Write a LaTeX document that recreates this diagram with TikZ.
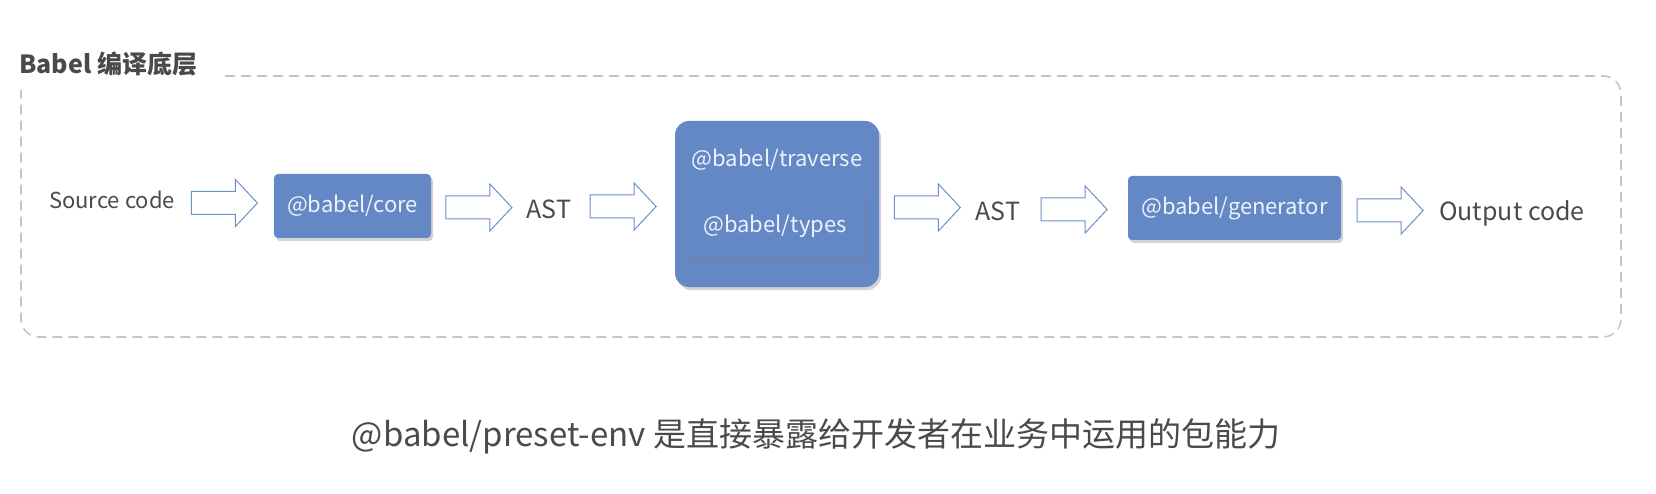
\documentclass[tikz,border=0pt]{standalone}
\usepackage{fontspec}
\setmainfont{Noto Sans CJK SC}
\usetikzlibrary{shadows,calc}
\definecolor{boxblue}{HTML}{6388C5}
\definecolor{txtgray}{HTML}{4A4A4A}
\definecolor{dashgray}{HTML}{C3C6CE}
\definecolor{arrblue}{HTML}{6E8FC8}
\definecolor{boxtxt}{HTML}{EEF2FA}
\tikzset{
  lbl/.style={inner sep=0pt, text=txtgray, font=\fontsize{22}{26}\selectfont},
  biglbl/.style={inner sep=0pt, text=txtgray, font=\fontsize{25}{30}\selectfont},
  pkg/.style={fill=boxblue, rounded corners=4pt, text=boxtxt, inner sep=0pt,
    font=\fontsize{22}{26}\selectfont,
    drop shadow={shadow xshift=2pt, shadow yshift=-3pt, opacity=0.35}},
  barrowstyle/.style={draw=arrblue, fill=white, line width=1pt, line join=miter},
  framebox/.style={draw=dashgray, line width=1.6pt, dash pattern=on 10pt off 6pt, rounded corners=18pt},
}
\newcommand\blockarrow[2]{%
  \path (#1.east) -- (#2.west) coordinate[pos=0.5] (m-#1-#2);
  \draw[barrowstyle] ($(m-#1-#2)+(-33,-11.5)$) -- ($(m-#1-#2)+(11,-11.5)$) -- ($(m-#1-#2)+(11,-23.5)$)
    -- ($(m-#1-#2)+(33,0)$) -- ($(m-#1-#2)+(11,23.5)$) -- ($(m-#1-#2)+(11,11.5)$)
    -- ($(m-#1-#2)+(-33,11.5)$) -- cycle;
}
\begin{document}
\begin{tikzpicture}[x=1pt,y=-1pt]
\useasboundingbox (0,0) rectangle (1656,494);
% frame
\draw[framebox] (225,76) -- (1621,76) -- (1621,337) -- (21,337) -- (21,90);
\node[anchor=west, inner sep=0pt, text=txtgray, font=\fontsize{25}{30}\selectfont\bfseries] (title) at (19,64) {Babel 编译底层};
% nodes
\node[lbl] (src) at (112,200) {Source code};
\node[pkg, minimum width=157pt, minimum height=64pt] (core) at (352.5,206) {@babel/core};
\node[biglbl] (ast1) at (549,209) {AST};
\node[fill=boxblue, rounded corners=14pt, minimum width=204pt, minimum height=166pt, inner sep=0pt,
  drop shadow={shadow xshift=2pt, shadow yshift=-3pt, opacity=0.35}] (trav) at (777,204) {};
\node[inner sep=0pt, text=boxtxt, font=\fontsize{22}{26}\selectfont] (travlbl) at (777,160) {@babel/traverse};
\node[pkg, minimum width=182pt, minimum height=64pt] (types) at (775,226) {@babel/types};
\node[biglbl] (ast2) at (998,211) {AST};
\node[pkg, minimum width=213pt, minimum height=64pt] (gen) at (1234.5,208) {@babel/generator};
\node[biglbl] (out) at (1512,213) {Output code};
% arrows
\blockarrow{src}{core}
\blockarrow{core}{ast1}
\blockarrow{ast1}{trav}
\blockarrow{trav}{ast2}
\blockarrow{ast2}{gen}
\blockarrow{gen}{out}
% caption
\node[inner sep=0pt, text=txtgray, font=\fontsize{33}{39}\selectfont] (caption) at (816,436) {@babel/preset-env 是直接暴露给开发者在业务中运用的包能力};
\end{tikzpicture}
\end{document}
